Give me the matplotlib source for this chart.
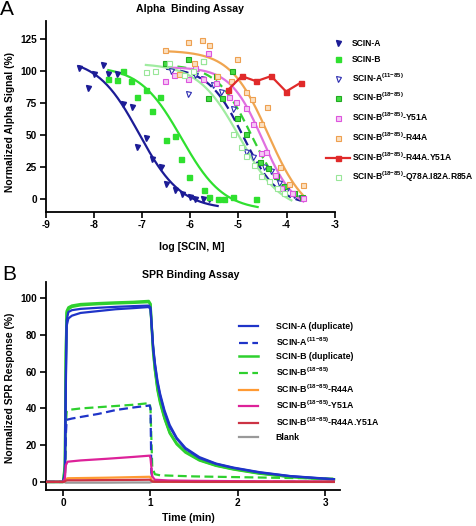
import numpy as np
import matplotlib
matplotlib.use("Agg")
import matplotlib.pyplot as plt

plt.rcParams['font.family'] = ['Liberation Sans', 'DejaVu Sans']
plt.rcParams['font.weight'] = 'bold'
plt.rcParams['axes.unicode_minus'] = False
plt.rcParams['mathtext.fontset'] = 'custom'
plt.rcParams['mathtext.rm'] = 'Liberation Sans:bold'
plt.rcParams['mathtext.bf'] = 'Liberation Sans:bold'
plt.rcParams['mathtext.it'] = 'Liberation Sans:bold'

# ---------------- Panel A data (log M, normalized %) ----------------
scinA_x = [-8.30, -8.12, -8.00, -7.82, -7.70, -7.51, -7.39, -7.21, -7.10, -6.92, -6.79,
           -6.60, -6.50, -6.31, -6.18, -6.01, -5.90, -5.74, -5.62]
scinA_y = [102, 87, 98, 105, 98, 98, 74, 72, 41, 48, 31, 25, 12, 7, 4, 2, 0, 0, 0]

scinB_x = [-7.70, -7.52, -7.39, -7.22, -7.10, -6.91, -6.79, -6.62, -6.50, -6.31, -6.19,
           -6.03, -5.72, -5.60, -5.43, -5.29, -5.12, -4.63]
scinB_y = [94, 93, 100, 92, 80, 85, 69, 80, 46, 49, 31, 17, 7, 2, 0, 0, 2, 0]

scinA1185_x = [-6.40, -6.05, -5.90, -5.74, -5.53, -5.36, -5.12, -4.84, -4.70, -4.56, -4.46,
               -4.32, -4.15, -4.01, -3.84, -3.70]
scinA1185_y = [100, 82, 97, 94, 89, 84, 70, 37, 33, 28, 25, 22, 13, 7, 3, 1]

scinB1885_x = [-6.53, -6.05, -5.74, -5.63, -5.46, -5.34, -5.13, -5.03, -4.84, -4.56, -4.39,
               -4.22, -4.05, -3.84, -3.67]
scinB1885_y = [106, 109, 108, 79, 96, 79, 100, 63, 51, 29, 24, 18, 10, 5, 2]

y51a_x = [-6.53, -6.34, -6.05, -5.91, -5.73, -5.63, -5.46, -5.20, -5.05, -4.84, -4.70,
          -4.53, -4.43, -4.23, -4.11, -3.89, -3.65]
y51a_y = [92, 97, 94, 102, 94, 114, 91, 80, 76, 71, 59, 36, 37, 19, 9, 5, 1]

r44a_x = [-6.53, -6.23, -6.05, -5.92, -5.75, -5.62, -5.45, -5.15, -5.03, -4.84, -4.72,
          -4.54, -4.40, -4.13, -3.94, -3.65]
r44a_y = [116, 98, 123, 106, 124, 120, 96, 92, 109, 84, 78, 59, 72, 25, 12, 11]

r44ay51a_x = [-5.22, -4.93, -4.63, -4.32, -4.01, -3.70]
r44ay51a_y = [85, 96, 92, 96, 84, 91]

q78a_x = [-6.91, -6.74, -6.43, -6.13, -5.94, -5.74, -5.12, -4.94, -4.84, -4.67, -4.53,
          -4.36, -4.20, -4.05]
q78a_y = [99, 100, 106, 97, 100, 108, 51, 41, 34, 27, 18, 14, 9, 5]

# 4-parameter logistic fit parameters
# order: SCIN-A, SCIN-B, SCIN-A(11-85), SCIN-B(18-85), Y51A, R44A, Q78A...
fit_top    = [110, 104, 103, 105, 103, 116, 106]
fit_bottom = [-8, -9, -5, -5, -10, -15, -10]
fit_logec  = [-7.06, -6.18, -4.90, -4.73, -4.50, -4.38, -4.97]
fit_hill   = [1.0, 1.0, 1.2, 1.2, 1.3, 1.1, 1.0]
fit_xmin   = [-8.30, -7.70, -6.50, -6.55, -6.50, -6.53, -6.92]
fit_xmax   = [-5.43, -4.60, -3.70, -3.67, -3.65, -3.67, -3.90]

labelsA = ['SCIN-A', 'SCIN-B', r'SCIN-A$^{(11{-}85)}$', r'SCIN-B$^{(18{-}85)}$',
           r'SCIN-B$^{(18{-}85)}$-Y51A', r'SCIN-B$^{(18{-}85)}$-R44A',
           r'SCIN-B$^{(18{-}85)}$-R44A.Y51A', r'SCIN-B$^{(18{-}85)}$-Q78A.I82A.R85A']

# ---------------- Panel B data (time in min, normalized SPR %) ----------------
t_main = [-0.2, 0.0, 0.02, 0.03, 0.04, 0.06, 0.1, 0.2, 0.4, 0.6, 0.8, 0.98, 1.0, 1.01,
          1.03, 1.05, 1.08, 1.11, 1.16, 1.22, 1.30, 1.40, 1.56, 1.75, 1.95, 2.25, 2.60, 3.10]
scinA_dup1 = [0, 0, 5, 55, 88, 92.5, 93.5, 94.2, 94.8, 95.3, 95.7, 96, 95, 88, 74, 65, 55,
              48, 39, 31, 24, 18.5, 13.5, 10, 7.8, 5.3, 3.2, 1.5]
scinA_dup2 = [0, 0, 4, 50, 85, 89, 90.5, 92, 93, 94, 94.6, 95.2, 94, 87, 73, 64, 54,
              47, 38, 30, 23.5, 18, 13, 9.8, 7.6, 5.1, 3.1, 1.4]
scinB_dup1 = [0, 0, 10, 70, 93, 95, 96, 96.8, 97.3, 97.7, 98, 98.5, 97, 88, 72, 62, 51,
              44, 35, 27, 21, 16.5, 12, 9, 7, 4.7, 2.8, 1.3]
scinB_dup2 = [0, 0, 8, 66, 92, 94, 95.3, 96.2, 96.8, 97.2, 97.5, 97.9, 96.5, 87, 71, 61, 50,
              43, 34.5, 26.5, 20.5, 16, 11.7, 8.8, 6.8, 4.5, 2.7, 1.2]

t_a1185 = [-0.2, 0.0, 0.02, 0.03, 0.04, 0.1, 0.23, 0.4, 0.61, 0.8, 0.99, 1.0, 1.01, 1.03,
           1.1, 1.5, 2.0, 3.1]
scinA1185_spr = [0, 0, 3, 25, 33.8, 34.5, 35.6, 37, 39.2, 40.5, 41.6, 40, 5, 0.5, 0.3,
                 0.2, 0.1, 0]

t_b1885 = [-0.2, 0.0, 0.02, 0.03, 0.04, 0.06, 0.2, 0.5, 0.8, 0.99, 1.0, 1.02, 1.05, 1.11,
           1.3, 1.5, 2.0, 2.5, 3.1]
scinB1885_spr = [0, 0, 5, 30, 38.3, 39.2, 40, 41, 42, 42.9, 40, 8, 4.2, 3.6, 3.3, 3, 2.6,
                 2.2, 1.8]

t_small = [-0.2, 0.0, 0.02, 0.03, 0.05, 0.2, 0.5, 0.8, 0.99, 1.0, 1.02, 1.05, 1.2, 1.5,
           2.0, 3.1]
r44a_spr = [0, 0, 0.5, 1.5, 2, 2.1, 2.3, 2.6, 2.8, 2.5, 0.5, 0.2, 0.1, 0.1, 0.1, 0]
y51a_spr = [0, 0, 2, 9, 11, 11.7, 12.6, 13.6, 14.3, 13, 3, 1.2, 0.8, 0.6, 0.4, 0.2]
r44ay51a_spr = [0, 0, 0.3, 0.7, 0.9, 0.9, 1.0, 1.1, 1.2, 1.0, 0.2, 0.1, 0.1, 0, 0, 0]
blank_spr = [0, 0, -0.2, -0.4, -0.4, -0.4, -0.4, -0.3, -0.3, -0.2, 0, 0, 0, 0, 0, 0]

labelsB = ['SCIN-A (duplicate)', r'SCIN-A$^{(11{-}85)}$', 'SCIN-B (duplicate)',
           r'SCIN-B$^{(18{-}85)}$', r'SCIN-B$^{(18{-}85)}$-R44A', r'SCIN-B$^{(18{-}85)}$-Y51A',
           r'SCIN-B$^{(18{-}85)}$-R44A.Y51A', 'Blank']

# ---------------- Figure ----------------
W, H = 477, 526
fig = plt.figure(figsize=(W / 100, H / 100), dpi=100)


def fig_rect(l, t, r, b):
    return [l / W, 1 - b / H, (r - l) / W, (b - t) / H]


def style_axes(ax):
    for s in ['top', 'right']:
        ax.spines[s].set_visible(False)
    for s in ['left', 'bottom']:
        ax.spines[s].set_linewidth(1.3)
    ax.tick_params(direction='out', length=4, width=1.2, labelsize=7.2, pad=2)
    for lab in ax.get_xticklabels() + ax.get_yticklabels():
        lab.set_fontweight('bold')


def fpl(x, top, bottom, logec, hill):
    return bottom + (top - bottom) / (1 + 10 ** (hill * (x - logec)))


# Panel A
axA = fig.add_axes(fig_rect(45.7, 21, 334.7, 212))
navy = '#1c1c96'
green = '#2fe02f'
mag = '#e070e0'
orng = '#f0a550'
red = '#e02a2a'
lgreen = '#a0eca0'

curve_styles = [
    dict(color=navy, ls='-'),
    dict(color=green, ls='-'),
    dict(color=navy, ls=(0, (4, 2.2))),
    dict(color='#33d033', ls=(0, (4, 2.2))),
    dict(color=mag, ls='-'),
    dict(color=orng, ls='-'),
    dict(color=lgreen, ls='-'),
]
for i in range(len(fit_top)):
    xs = np.linspace(fit_xmin[i], fit_xmax[i], 200)
    axA.plot(xs, fpl(xs, fit_top[i], fit_bottom[i], fit_logec[i], fit_hill[i]),
             lw=1.6, zorder=2, **curve_styles[i])

ms = 3.6
hA = []
hA.append(axA.plot(scinA_x, scinA_y, 'v', ms=ms, mfc=navy, mec=navy, ls='none', zorder=3)[0])
hA.append(axA.plot(scinB_x, scinB_y, 's', ms=ms, mfc=green, mec=green, ls='none', zorder=3)[0])
hA.append(axA.plot(scinA1185_x, scinA1185_y, 'v', ms=ms, mfc='white', mec='#2a2ab0', mew=0.8,
                   ls='none', zorder=3)[0])
hA.append(axA.plot(scinB1885_x, scinB1885_y, 's', ms=ms, mfc='#44dd44', mec='#22aa22', mew=0.8,
                   ls='none', zorder=3)[0])
hA.append(axA.plot(y51a_x, y51a_y, 's', ms=ms, mfc='#f6c8f6', mec='#dd55dd', mew=0.8,
                   ls='none', zorder=3)[0])
hA.append(axA.plot(r44a_x, r44a_y, 's', ms=ms, mfc='#fbe0c0', mec='#eea050', mew=0.8,
                   ls='none', zorder=3)[0])
hA.append(axA.plot(r44ay51a_x, r44ay51a_y, 's-', ms=ms, color=red, mfc=red, mec=red, lw=1.6,
                   zorder=4)[0])
hA.append(axA.plot(q78a_x, q78a_y, 's', ms=ms, mfc='white', mec='#99e699', mew=0.8,
                   ls='none', zorder=3)[0])

axA.set_xlim(-9, -3)
axA.set_ylim(-10, 139)
axA.set_xticks([-9, -8, -7, -6, -5, -4, -3])
axA.set_yticks([0, 25, 50, 75, 100, 125])
style_axes(axA)

legA = fig.legend(hA, labelsA, loc='upper left', bbox_to_anchor=(326 / W, 1 - 38.5 / H),
                  bbox_transform=fig.transFigure, frameon=False,
                  handlelength=2.8, handletextpad=0.2, labelspacing=0.86, borderpad=0,
                  borderaxespad=0, prop={'weight': 'bold', 'size': 6.15})

fig.text(0.0, 1.0, 'A', fontsize=15, fontweight='normal', va='top', ha='left')
fig.text(190 / W, 1 - 8.5 / H, 'Alpha  Binding Assay', fontsize=7.6, fontweight='bold',
         ha='center', va='center')
fig.text(191.7 / W, 1 - 247 / H, 'log [SCIN, M]', fontsize=7.6, fontweight='bold',
         ha='center', va='center')
fig.text(10 / W, 1 - 122.5 / H, 'Normalized Alpha Signal (%)', fontsize=7.4,
         fontweight='bold', ha='center', va='center', rotation=90)

# Panel B
axB = fig.add_axes(fig_rect(45.7, 281.7, 340, 490))
blue = '#1f34c8'
sgreen = '#2ed02e'
mgB = '#dd2299'
orB = '#ff9a33'
rdB = '#cc3344'
gry = '#999999'

hB = []
axB.plot(t_main, scinA_dup2, color=blue, lw=1.6, zorder=3)
hB.append(axB.plot(t_main, scinA_dup1, color=blue, lw=1.6, zorder=3)[0])
hB.append(axB.plot(t_a1185, scinA1185_spr, color=blue, lw=1.6, ls=(0, (4, 2)), zorder=3)[0])
axB.plot(t_main, scinB_dup2, color=sgreen, lw=1.8, zorder=2)
hB.append(axB.plot(t_main, scinB_dup1, color=sgreen, lw=1.8, zorder=2)[0])
hB.append(axB.plot(t_b1885, scinB1885_spr, color=sgreen, lw=1.6, ls=(0, (4, 2)), zorder=2)[0])
hB.append(axB.plot(t_small, r44a_spr, color=orB, lw=1.6, zorder=3)[0])
hB.append(axB.plot(t_small, y51a_spr, color=mgB, lw=1.6, zorder=3)[0])
hB.append(axB.plot(t_small, r44ay51a_spr, color=rdB, lw=1.6, zorder=3)[0])
hB.append(axB.plot(t_small, blank_spr, color=gry, lw=1.6, zorder=2)[0])

axB.set_xlim(-0.2, 3.17)
axB.set_ylim(-4.4, 109)
axB.set_xticks([0, 1, 2, 3])
axB.set_yticks([0, 20, 40, 60, 80, 100])
style_axes(axB)

legB = fig.legend(hB, labelsB, loc='upper left', bbox_to_anchor=(239 / W, 1 - 322 / H),
                  bbox_transform=fig.transFigure, frameon=False,
                  handlelength=2.2, handletextpad=2.0, labelspacing=0.5, borderpad=0,
                  borderaxespad=0, prop={'weight': 'bold', 'size': 6.3})

fig.text(0.005, 1 - 265 / H, 'B', fontsize=15, fontweight='normal', va='top', ha='left')
fig.text(190.8 / W, 1 - 275 / H, 'SPR Binding Assay', fontsize=7.6, fontweight='bold',
         ha='center', va='center')
fig.text(188 / W, 1 - 518 / H, 'Time (min)', fontsize=7.6, fontweight='bold',
         ha='center', va='center')
fig.text(10 / W, 1 - 387.5 / H, 'Normalized SPR Response (%)', fontsize=7.4,
         fontweight='bold', ha='center', va='center', rotation=90)

fig.savefig('out.png', dpi=100)
